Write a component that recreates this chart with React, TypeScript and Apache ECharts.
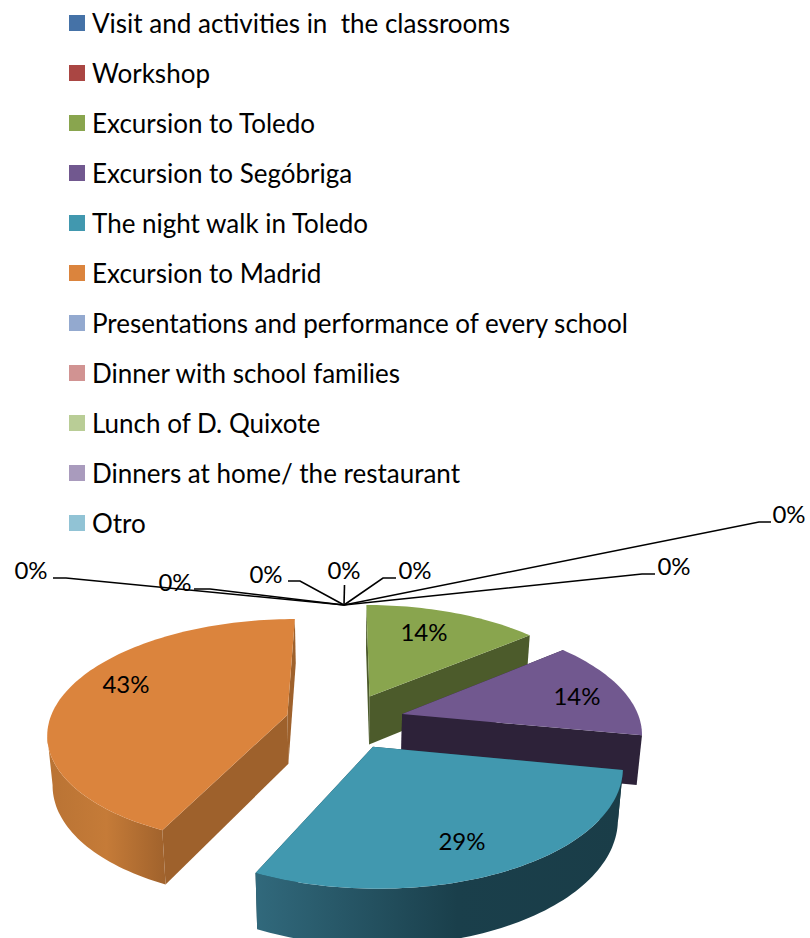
import React, { useEffect, useRef } from "react";
import * as echarts from "echarts";

const categories = [
  "Visit and activities in  the classrooms",
  "Workshop",
  "Excursion to Toledo",
  "Excursion to Segóbriga",
  "The night walk in Toledo",
  "Excursion to Madrid",
  "Presentations and performance of every school",
  "Dinner with school families",
  "Lunch of D. Quixote",
  "Dinners at home/ the restaurant",
  "Otro",
];
const percentValues = [0, 0, 14, 14, 29, 43, 0, 0, 0, 0, 0];
const colors = [
  "#4572a7", "#aa4643", "#89a54e", "#71588f", "#4198af", "#db843d",
  "#93a9cf", "#d19392", "#b9cd96", "#a99bbd", "#91c3d5",
];

// Layout of the 3D projection
const CX = 345, CY = 721, RX = 238, RY = 112, PERSP = 0.15, EXPLODE = 0.25, DEPTH = 50, SHRINK = 0.982;
const HUB: [number, number] = [344, 605];
const FONT = "Lato";
const LABEL_SIZE = 24;
const LEGEND_SIZE = 26;

const labelAnchors: [number, number][] = [
  [789, 513], [674, 565], [424, 631], [577, 695], [462, 840], [126, 683],
  [31, 569], [175, 581], [266, 573], [344, 569], [415, 569],
];
const leaderElbows: ([number, number][] | null)[] = [
  [[771, 522], [759, 522]], [[655, 574], [642, 574]], null, null, null, null,
  [[53, 578], [66, 578]], [[194, 589], [210, 589]], [[288, 581], [300, 581]], [[344.5, 585]], [[396, 578], [383, 578]],
];

const total = percentValues.reduce((a, b) => a + b, 0);

function project(u: number, w: number, bottom: boolean): [number, number] {
  const p = 1 / (1 - PERSP * w);
  if (!bottom) return [CX + RX * u * p, CY + RY * w * p];
  return [CX + RX * u * p * SHRINK, CY + (RY * w * p + DEPTH * p) * SHRINK];
}

function wallFills(index: number) {
  const lin = (stops: [number, string][]) =>
    new echarts.graphic.LinearGradient(0, 0, 1, 0, stops.map(([offset, color]) => ({ offset, color })));
  if (index === 5) return { arc: lin([[0, "#b97334"], [0.5, "#c57b38"], [1, "#a0622c"]]), side: "#9e612c" };
  if (index === 4) return { arc: lin([[0, "#31697c"], [0.55, "#1a3f4b"], [1, "#1a3d48"]]), side: "#1a3d48" };
  if (index === 3) return { arc: "#2d2239", side: "#2d2239" };
  if (index === 2) return { arc: "#4c5b2b", side: "#4c5b2b" };
  return { arc: "#888", side: "#888" };
}

function makeRenderItem(index: number) {
  return (_params: any, api: any) => {
    const value = api.value(0) as number;
    const before = percentValues.slice(0, index).reduce((a, b) => a + b, 0);
    const a0 = (before / total) * Math.PI * 2;
    const a1 = ((before + value) / total) * Math.PI * 2;
    const children: any[] = [];

    if (value > 0) {
      const mid = (a0 + a1) / 2;
      const ua = EXPLODE * Math.sin(mid);
      const wa = -EXPLODE * Math.cos(mid);
      const steps = Math.max(8, Math.round((a1 - a0) * 40));
      const rim: [number, number][] = [];
      for (let i = 0; i <= steps; i++) {
        const t = a0 + ((a1 - a0) * i) / steps;
        rim.push([ua + Math.sin(t), wa - Math.cos(t)]);
      }
      const top = rim.map(([u, w]) => project(u, w, false));
      const low = rim.map(([u, w]) => project(u, w, true));
      const apexTop = project(ua, wa, false);
      const apexLow = project(ua, wa, true);
      const fills = wallFills(index);
      children.push({
        type: "polygon", silent: true,
        shape: { points: [apexTop, top[0], low[0], apexLow] },
        style: { fill: fills.side },
      });
      children.push({
        type: "polygon", silent: true,
        shape: { points: [apexTop, top[steps], low[steps], apexLow] },
        style: { fill: fills.side },
      });
      // Only the part of the rim that runs leftward on screen faces the viewer.
      const facing: number[] = [];
      for (let i = 0; i <= steps; i++) {
        const leftward =
          (i < steps && top[i + 1][0] < top[i][0]) || (i > 0 && top[i][0] < top[i - 1][0]);
        if (leftward) facing.push(i);
      }
      if (facing.length > 1) {
        const topPts = facing.map((i) => top[i]);
        const lowPts = facing.map((i) => low[i]).reverse();
        children.push({
          type: "polygon", silent: true,
          shape: { points: [...topPts, ...lowPts] },
          style: { fill: fills.arc },
        });
      }
      children.push({
        type: "polygon", silent: true,
        shape: { points: [apexTop, ...top] },
        style: { fill: colors[index] },
      });
    }

    const elbow = leaderElbows[index];
    if (elbow) {
      children.push({
        type: "polyline", silent: true,
        shape: { points: [...elbow, HUB] },
        style: { stroke: "#000", lineWidth: 1.6, fill: "none" },
      });
    }
    const [lx, ly] = labelAnchors[index];
    children.push({
      type: "text", silent: true,
      style: {
        text: `${value}%`, x: lx, y: ly, fill: "#000",
        fontFamily: FONT, fontSize: LABEL_SIZE, align: "center", verticalAlign: "middle",
      },
    });
    return { type: "group", children };
  };
}

export default function App() {
  const ref = useRef<HTMLDivElement>(null);
  useEffect(() => {
    const chart = echarts.init(ref.current!, undefined, { renderer: "svg" });
    chart.setOption({
      animation: false,
      backgroundColor: "#fff",
      legend: {
        orient: "vertical",
        left: 64,
        top: 5,
        itemWidth: 16,
        itemHeight: 16,
        itemGap: 24,
        icon: "rect",
        selectedMode: false,
        data: categories,
        textStyle: {
          fontFamily: FONT, fontSize: LEGEND_SIZE, color: "#000", lineHeight: 26, padding: [0, 0, 0, 2],
        },
      },
      series: categories.map((name, i) => ({
        type: "custom",
        name,
        coordinateSystem: "none",
        itemStyle: { color: colors[i] },
        data: [[percentValues[i]]],
        renderItem: makeRenderItem(i),
        z: 2,
      })),
    });
    return () => chart.dispose();
  }, []);
  return <div ref={ref} style={{ position: "absolute", left: 0, top: 0, width: 810, height: 938 }} />;
}
